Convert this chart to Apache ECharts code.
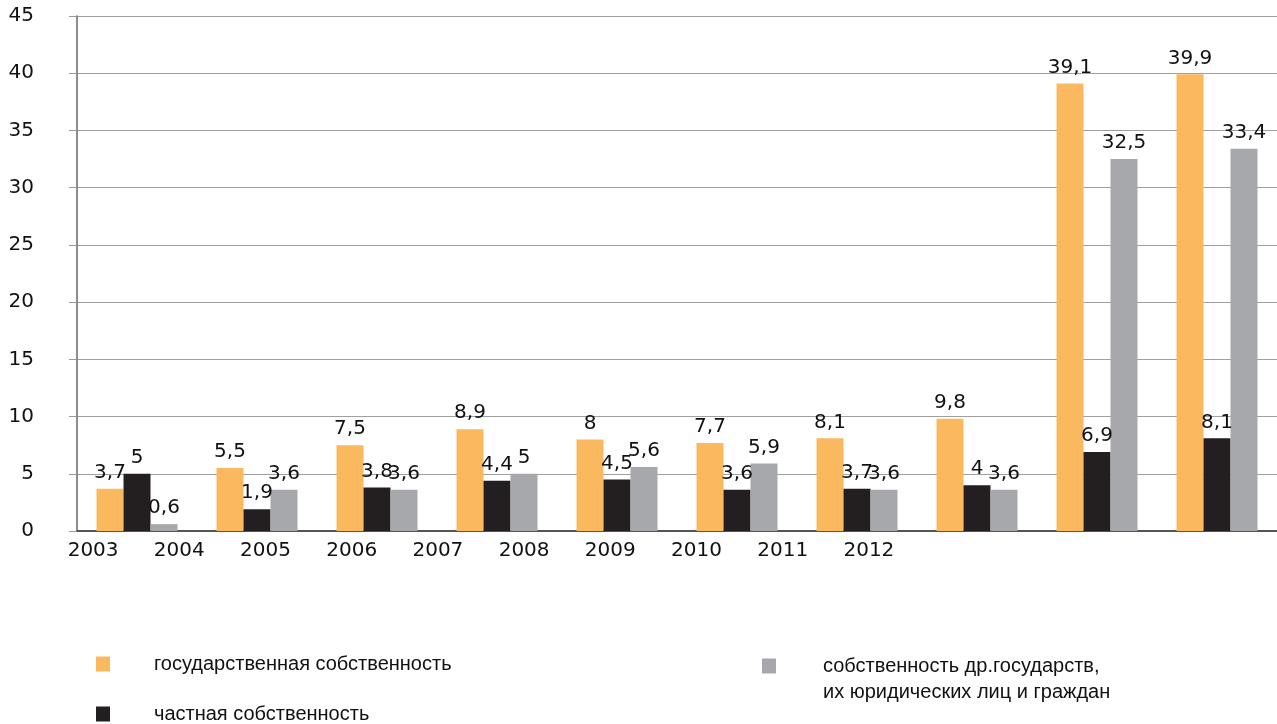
<!DOCTYPE html>
<html>
<head>
<meta charset="utf-8">
<script src="https://cdn.jsdelivr.net/npm/echarts@6/dist/echarts.min.js"></script>
<style>
  html, body { margin: 0; padding: 0; background: #fff; }
  #chart { width: 1277px; height: 724px; }
</style>
</head>
<body>
<div id="chart"></div>
<script>
// Years shown along the horizontal axis
const years = ['2003', '2004', '2005', '2006', '2007', '2008', '2009', '2010', '2011', '2012'];

// Series names
const nameState = 'государственная собственность';
const namePrivate = 'частная собственность';
const nameForeign = 'собственность др.государств,\nих юридических лиц и граждан';

// Values per year
const stateValues = [3.7, 5.5, 7.5, 8.9, 8, 7.7, 8.1, 9.8, 39.1, 39.9];
const privateValues = [5, 1.9, 3.8, 4.4, 4.5, 3.6, 3.7, 4, 6.9, 8.1];
const foreignValues = [0.6, 3.6, 3.6, 5, 5.6, 5.9, 3.6, 3.6, 32.5, 33.4];

const TEXT_FONT = '"Liberation Sans", Arial, sans-serif';
const NUM_FONT = '"DejaVu Sans", sans-serif';
const TEXT = '#111111';

const valueLabel = {
  show: true,
  position: 'top',
  distance: 6,
  fontFamily: NUM_FONT,
  fontSize: 20,
  color: TEXT,
  formatter: p => String(p.value).replace('.', ',')
};

function barSeries(name, data, color) {
  return {
    name: name,
    type: 'bar',
    xAxisIndex: 0,
    yAxisIndex: 0,
    data: data,
    barWidth: 27,
    barGap: '0%',
    itemStyle: { color: color },
    label: valueLabel
  };
}

function legendBox(name, left, top, extra) {
  return Object.assign({
    data: [name],
    orient: 'horizontal',
    left: left,
    top: top,
    padding: 0,
    itemWidth: 14,
    itemHeight: 15,
    icon: 'rect',
    selectedMode: false,
    textStyle: { fontFamily: TEXT_FONT, fontSize: 20, color: TEXT, padding: [0, 0, 0, 39] }
  }, extra || {});
}

const chart = echarts.init(document.getElementById('chart'), null, { renderer: 'canvas' });

chart.setOption({
  animation: false,
  backgroundColor: '#ffffff',
  textStyle: { fontFamily: TEXT_FONT },
  grid: [
    { left: 77, right: 0, top: 16, bottom: 193, containLabel: false },
    { left: 50, width: 862, top: 16, bottom: 193, containLabel: false }
  ],
  legend: [
    legendBox(nameState, 96, 654),
    legendBox(namePrivate, 96, 704),
    legendBox(nameForeign, 762, 627, {
      // a blank first row keeps the icon level with the first line of the name
      formatter: n => ' \n' + n,
      textStyle: { fontFamily: TEXT_FONT, fontSize: 20, color: TEXT, lineHeight: 26, padding: [0, 0, 0, 42] }
    })
  ],
  xAxis: [
    {
      type: 'category',
      gridIndex: 0,
      data: years,
      axisLine: { show: true, lineStyle: { color: '#555555', width: 2 } },
      axisTick: { show: false },
      axisLabel: { show: false },
      splitLine: { show: false }
    },
    {
      type: 'category',
      gridIndex: 1,
      data: years,
      axisLine: { show: false },
      axisTick: { show: false },
      axisLabel: { show: true, margin: 10, fontFamily: NUM_FONT, fontSize: 20, color: TEXT },
      splitLine: { show: false }
    }
  ],
  yAxis: [
    {
      type: 'value',
      gridIndex: 0,
      min: 0,
      max: 45,
      interval: 5,
      axisLine: { show: true, lineStyle: { color: '#666666', width: 1.5 } },
      axisTick: { show: true, length: 8, lineStyle: { color: '#999999' } },
      axisLabel: { margin: 43, fontFamily: NUM_FONT, fontSize: 20, color: TEXT, padding: [3, 0, 0, 0] },
      splitLine: { show: true, lineStyle: { color: '#a0a0a0', width: 1 } }
    },
    {
      type: 'value',
      gridIndex: 1,
      show: false,
      min: 0,
      max: 45
    }
  ],
  series: [
    barSeries(nameState, stateValues, '#FBB95F'),
    barSeries(namePrivate, privateValues, '#231F20'),
    barSeries(nameForeign, foreignValues, '#A7A8AB')
  ]
});
</script>
</body>
</html>
